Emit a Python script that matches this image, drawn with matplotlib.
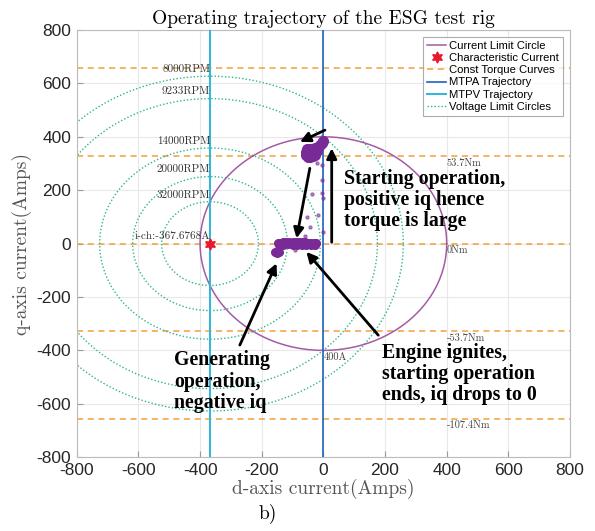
import numpy as np
from matplotlib import pyplot as plt

# operating point data
i_ch = -367.6768
current_limit = 400.0

rpm_labels = ['8000RPM', '9233RPM', '14000RPM', '20000RPM', '32000RPM']
voltage_radii = [627, 543, 358, 251, 157]

torque_iq = [656, 328, 0, -328, -656]
# the 107.4Nm label sits behind the legend in the original, so it is not drawn
torque_labels = [None, '53.7Nm', '0Nm', '-53.7Nm', '-107.4Nm']

# starting blob (positive iq)
start_d = [-58, -50, -42, -34, -26, -55, -46, -38, -30, -22, -52, -44, -36,
           -28, -18, -12, -6, -2, -48, -40]
start_q = [330, 326, 325, 328, 333, 342, 340, 341, 343, 346, 354, 355, 356,
           357, 360, 368, 377, 384, 348, 350]

# generating band (iq around zero)
gen_d = [-148, -140, -130, -120, -110, -100, -90, -80, -70, -60, -50, -40, -30,
         -25, -145, -130, -115, -100, -85, -70, -55, -40, -28, -158, -150, -145]
gen_q = [3, 4, 5, 5, 6, 5, 6, 6, 5, 5, 4, 4, 3, 2, -4, -5, -3, -4, -5, -4, -5,
         -6, -7, -30, -36, -30]

# sparse transition points
tr_d = [-3, -3, -6, -38, -53, -44, -18, -60, 0, -92, 0, -20]
tr_q = [294, 238, 188, 187, 99, 63, 107, 28, 170, -24, 44, 300]

c_volt = '#2fb58e'
c_torque = '#f0a040'
c_circle = '#a45ba6'
c_mtpa = '#1f62c0'
c_mtpv = '#2fb6dc'
c_data = '#7a2a96'

plt.rcParams['axes.unicode_minus'] = False

fig, ax = plt.subplots(figsize=(5.95, 5.31), dpi=100)
fig.subplots_adjust(left=0.129, right=0.958, top=0.9435, bottom=0.139)

th = np.linspace(0, 2 * np.pi, 400)

ax.plot(current_limit * np.cos(th), current_limit * np.sin(th),
        color=c_circle, lw=1.1, label='Current Limit Circle', zorder=3)
ax.plot([i_ch], [0], marker=(6, 1, 0), color='#e8192c', ms=8, ls='none',
        label='Characteristic Current', zorder=6)

for k, iq in enumerate(torque_iq):
    ax.axhline(iq, color=c_torque, ls=(0, (4, 3)), lw=1.1, zorder=2,
               label='Const Torque Curves' if k == 0 else None)
    if torque_labels[k]:
        ax.text(400, iq - 8, torque_labels[k], fontsize=7.5, color='#444444',
                family='cmr10', ha='left', va='top', zorder=2)

ax.axvline(0, color=c_mtpa, lw=1.2, label='MTPA Trajectory', zorder=3)
ax.axvline(i_ch, color=c_mtpv, lw=1.4, label='MTPV Trajectory', zorder=3)

for k, r in enumerate(voltage_radii):
    ax.plot(i_ch + r * np.cos(th), r * np.sin(th), color=c_volt,
            ls=(0, (1, 1.5)), lw=1.0, zorder=2,
            label='Voltage Limit Circles' if k == 0 else None)
    ax.text(i_ch, r + 8, rpm_labels[k], fontsize=8, color='#333333',
            family='cmr10', ha='right', va='bottom', zorder=4)

ax.text(i_ch, 8, 'i-ch:-367.6768A', fontsize=8, color='#333333',
        family='cmr10', ha='right', va='bottom', zorder=4)
ax.text(0, -408, '400A', fontsize=7.5, color='#444444', family='cmr10',
        ha='left', va='top', zorder=4)

# measured trajectory
ax.plot(tr_d, tr_q, 'o', color=c_data, ms=2.2, alpha=0.55, zorder=5)
ax.plot(start_d, start_q, 'o', color=c_data, ms=8, mec='none', zorder=5)
ax.plot(gen_d, gen_q, 'o', color=c_data, ms=6.5, mec='none', zorder=5)

# annotation arrows
arrow = dict(arrowstyle='-|>', lw=2, color='k', mutation_scale=15,
             shrinkA=0, shrinkB=0)
ax.annotate('', xy=(-76, 381), xytext=(5, 425), arrowprops=arrow, zorder=7)
ax.annotate('', xy=(27, 357), xytext=(27, 5), arrowprops=arrow, zorder=7)
ax.annotate('', xy=(-87, 20), xytext=(-44, 282), arrowprops=arrow, zorder=7)
ax.annotate('', xy=(-152, -74), xytext=(-271, -380), arrowprops=arrow, zorder=7)
ax.annotate('', xy=(-55, -31), xytext=(178, -343), arrowprops=arrow, zorder=7)

bold = dict(family='Liberation Serif', fontsize=14.3, fontweight='bold',
            linespacing=1.08, zorder=8)
ax.text(66, 280, 'Starting operation,\npositive iq hence\ntorque is large',
        ha='left', va='top', **bold)
ax.text(-483, -400, 'Generating\noperation,\nnegative iq',
        ha='left', va='top', **bold)
ax.text(189, -372, 'Engine ignites,\nstarting operation\nends, iq drops to 0',
        ha='left', va='top', **bold)

ax.set_xlim(-800, 800)
ax.set_ylim(-800, 800)
ax.set_xticks(np.arange(-800, 801, 200))
ax.set_yticks(np.arange(-800, 801, 200))
ax.grid(True, color='#e8e8e8', lw=0.8, zorder=0)
ax.set_axisbelow(True)
for lab in ax.get_xticklabels() + ax.get_yticklabels():
    lab.set_family('Liberation Sans')
    lab.set_fontsize(12.5)
    lab.set_color('#262626')
ax.tick_params(direction='in', length=4, color='#999999', pad=4)
for s in ax.spines.values():
    s.set_color('#bbbbbb')
    s.set_linewidth(0.8)

ax.set_title('Operating trajectory of the ESG test rig', family='cmr10',
             fontsize=14, pad=4)
ax.set_xlabel('d-axis current(Amps)', family='cmr10', fontsize=14,
              color='#555555', labelpad=1)
ax.set_ylabel('q-axis current(Amps)', family='cmr10', fontsize=14,
              color='#555555', labelpad=3)

leg = ax.legend(loc='upper right',
                prop={'family': 'Liberation Sans', 'size': 8.1},
                handlelength=1.7, handletextpad=0.3, borderpad=0.35,
                labelspacing=0.2, fancybox=False, edgecolor='#999999',
                borderaxespad=0.6)
leg.get_frame().set_linewidth(0.8)
leg.set_zorder(10)

fig.text(0.45, 0.022, 'b)', family='cmr10', fontsize=14, ha='center')

fig.savefig('out.png', dpi=100)
